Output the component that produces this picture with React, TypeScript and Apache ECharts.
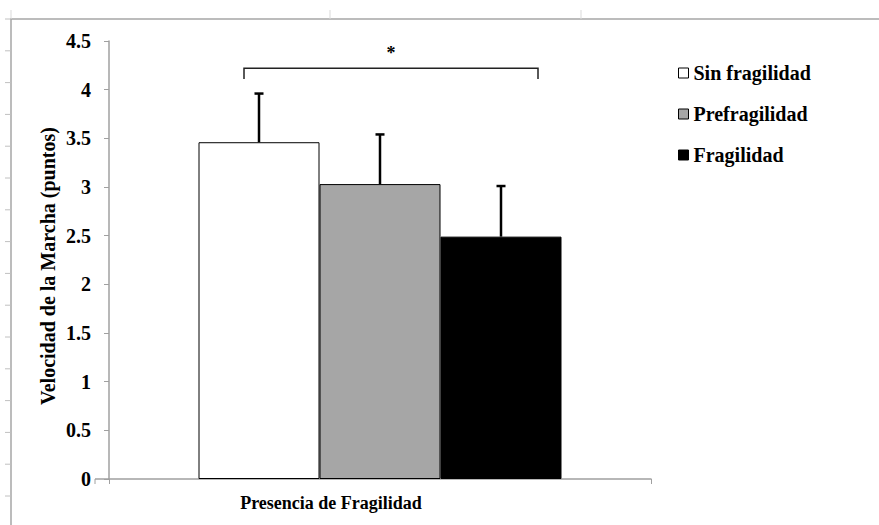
import React, { useEffect, useRef } from "react";
import * as echarts from "echarts";

const categories = [""];
const seriesNames = ["Sin fragilidad", "Prefragilidad", "Fragilidad"];
const means = [3.46, 3.03, 2.49];
const upperErrors = [3.96, 3.54, 3.01];
const barColors = ["#ffffff", "#a6a6a6", "#000000"];
const yTicks = { min: 0, max: 4.5, interval: 0.5 };
const bracketValue = 4.22;
const bracketDrop = 4.11;
const yAxisTitle = "Velocidad de la Marcha (puntos)";
const xAxisTitle = "Presencia de Fragilidad";

const FONT = "Liberation Serif";
const BAR_W = 121;

export default function App() {
  const ref = useRef<HTMLDivElement>(null);
  useEffect(() => {
    document.body.style.margin = "0";
    if (!ref.current) return;
    const chart = echarts.init(ref.current, null, { renderer: "svg" });

    const barSeries = seriesNames.map((name, i) => ({
      name,
      type: "bar",
      data: [means[i]],
      barWidth: BAR_W,
      barGap: "0%",
      itemStyle: { color: barColors[i], borderColor: "#000", borderWidth: 1 },
      z: 2,
    }));

    const errData = means.map((m, i) => [0, m, upperErrors[i], i]);

    const frameTicks: any[] = [];
    for (let k = 0; k < 16; k++) {
      const y = 19 + k * 31.8;
      frameTicks.push({
        type: "line",
        shape: { x1: 5, y1: y, x2: 11, y2: y },
        style: { stroke: "#c0c0c0", lineWidth: 1 },
      });
    }

    chart.setOption({
      animation: false,
      backgroundColor: "#ffffff",
      textStyle: { fontFamily: FONT },
      grid: { left: 109, right: 228, top: 41, bottom: 46 },
      legend: {
        data: seriesNames,
        orient: "vertical",
        left: 678,
        top: 63,
        padding: 0,
        itemWidth: 10,
        itemHeight: 10,
        itemGap: 21,
        icon: "rect",
        itemStyle: { borderColor: "#000", borderWidth: 1 },
        textStyle: { fontFamily: FONT, fontWeight: "bold", fontSize: 20, color: "#000" },
      },
      xAxis: {
        type: "category",
        data: categories,
        axisLine: { lineStyle: { color: "#a0a0a0", width: 1.5 } },
        axisTick: { show: true, length: 5, lineStyle: { color: "#a0a0a0" } },
        axisLabel: { show: false },
      },
      yAxis: {
        type: "value",
        min: yTicks.min,
        max: yTicks.max,
        interval: yTicks.interval,
        splitLine: { show: false },
        axisLine: { show: true, lineStyle: { color: "#a0a0a0", width: 1.5 } },
        axisTick: { show: true, length: 5, lineStyle: { color: "#a0a0a0" } },
        axisLabel: {
          margin: 18,
          fontFamily: FONT,
          fontWeight: "bold",
          fontSize: 20,
          color: "#000",
        },
      },
      series: [
        ...barSeries,
        {
          type: "custom",
          name: "err",
          data: errData,
          z: 5,
          renderItem: (params: any, api: any) => {
            const idx = api.value(3);
            const base = api.coord([0, api.value(1)]);
            const top = api.coord([0, api.value(2)]);
            const x = base[0] + (idx - 1) * BAR_W;
            return {
              type: "group",
              children: [
                {
                  type: "line",
                  shape: { x1: x, y1: base[1], x2: x, y2: top[1] },
                  style: { stroke: "#000", lineWidth: 2.5 },
                },
                {
                  type: "line",
                  shape: { x1: x - 4.5, y1: top[1], x2: x + 4.5, y2: top[1] },
                  style: { stroke: "#000", lineWidth: 2.5 },
                },
              ],
            };
          },
        },
        {
          type: "custom",
          name: "bracket",
          data: [[0, bracketValue, bracketDrop]],
          z: 5,
          renderItem: (params: any, api: any) => {
            const p = api.coord([0, api.value(1)]);
            const d = api.coord([0, api.value(2)]);
            const xl = p[0] - 136;
            const xr = p[0] + 158;
            return {
              type: "group",
              children: [
                {
                  type: "polyline",
                  shape: { points: [[xl, d[1]], [xl, p[1]], [xr, p[1]], [xr, d[1]]] },
                  style: { stroke: "#222", lineWidth: 1.5, fill: "none" },
                },
                {
                  type: "text",
                  style: {
                    text: "*",
                    x: (xl + xr) / 2,
                    y: p[1] - 15,
                    align: "center",
                    verticalAlign: "middle",
                    fontFamily: FONT,
                    fontWeight: "bold",
                    fontSize: 18,
                    fill: "#000",
                  },
                },
              ],
            };
          },
        },
      ],
      graphic: [
        { type: "line", shape: { x1: 10, y1: 19, x2: 879, y2: 19 }, style: { stroke: "#a6a6a6", lineWidth: 1.5 } },
        { type: "line", shape: { x1: 11, y1: 19, x2: 11, y2: 525 }, style: { stroke: "#a6a6a6", lineWidth: 1.5 } },
        { type: "line", shape: { x1: 11, y1: 10, x2: 11, y2: 19 }, style: { stroke: "#d9d9d9", lineWidth: 1 } },
        { type: "line", shape: { x1: 330, y1: 10, x2: 330, y2: 19 }, style: { stroke: "#d9d9d9", lineWidth: 1 } },
        { type: "line", shape: { x1: 581, y1: 10, x2: 581, y2: 19 }, style: { stroke: "#d9d9d9", lineWidth: 1 } },
        ...frameTicks,
        { type: "line", shape: { x1: 95, y1: 479, x2: 109, y2: 479 }, style: { stroke: "#a0a0a0", lineWidth: 1.5 } },
        { type: "line", shape: { x1: 95, y1: 479, x2: 95, y2: 484 }, style: { stroke: "#a0a0a0", lineWidth: 1 } },
        {
          type: "text",
          x: 48,
          y: 266,
          rotation: Math.PI / 2,
          style: {
            text: yAxisTitle,
            x: 0,
            y: 0,
            align: "center",
            verticalAlign: "middle",
            fontFamily: FONT,
            fontWeight: "bold",
            fontSize: 20,
            fill: "#000",
          },
        },
        {
          type: "text",
          style: {
            text: xAxisTitle,
            x: 331,
            y: 503,
            align: "center",
            verticalAlign: "middle",
            fontFamily: FONT,
            fontWeight: "bold",
            fontSize: 18,
            fill: "#000",
          },
        },
      ],
    });
    return () => chart.dispose();
  }, []);
  return <div ref={ref} style={{ width: 879, height: 525 }} />;
}
